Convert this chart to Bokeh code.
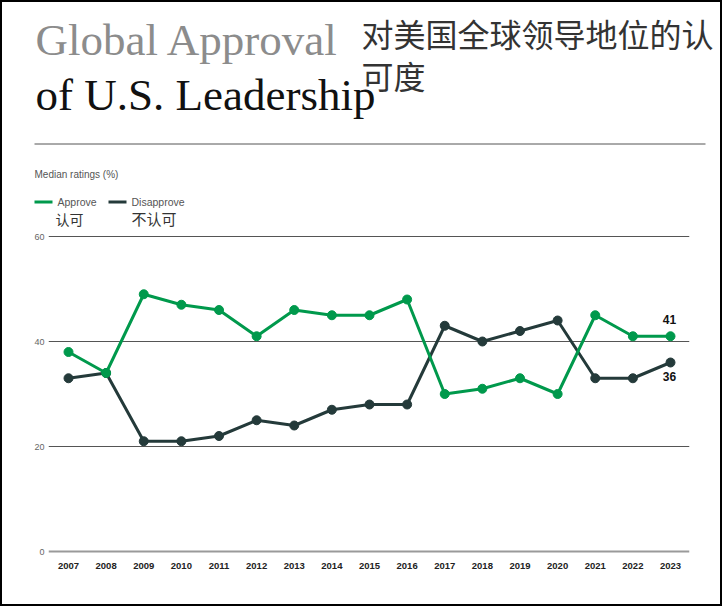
from bokeh.plotting import figure
from bokeh.models import Range1d, Label, Span, FixedTicker, ColumnDataSource
from bokeh.layouts import column
from bokeh.embed import file_html
from bokeh.resources import INLINE

years = list(range(2007, 2024))
approve = [38, 34, 49, 47, 46, 41, 46, 45, 45, 48, 30, 31, 33, 30, 45, 41, 41]
disapprove = [33, 34, 21, 21, 22, 25, 24, 27, 28, 28, 43, 40, 42, 44, 33, 33, 36]
y_ticks = [0, 20, 40, 60]

title_line1 = "Global Approval"
title_line2 = "of U.S. Leadership"
title_cn_1 = "对美国全球领导地位的认"
title_cn_2 = "可度"
subtitle = "Median ratings (%)"
legend_en = ["Approve", "Disapprove"]
legend_cn = ["认可", "不认可"]

GREEN = "#00994C"
DARK = "#243A3A"

W = 722
TOTAL_H = 606
HEADER_BOTTOM = 230  # page y where the chart figure starts

# ---------------- header figure (coordinates = page pixels) ----------------
h = figure(width=W, height=HEADER_BOTTOM, output_backend="svg", toolbar_location=None,
           x_range=Range1d(0, W), y_range=Range1d(HEADER_BOTTOM, 0),
           min_border=0, min_border_left=0, min_border_right=0,
           min_border_top=0, min_border_bottom=0,
           styles={"background-color": "white",
                   "box-shadow": "inset 2px 0 0 0 black, inset -2px 0 0 0 black, inset 0 2px 0 0 black"})
h.frame_align = False
h.axis.visible = False
h.grid.visible = False
h.outline_line_color = None
h.background_fill_alpha = 0
h.border_fill_alpha = 0

h.add_layout(Label(x=35, y=39, text=title_line1, text_align="left", text_baseline="alphabetic",
                   text_font="Liberation Serif", text_font_size="45px", text_color="#8c8c8c"))
h.add_layout(Label(x=35, y=94, text=title_line2, text_align="left", text_baseline="alphabetic",
                   text_font="Liberation Serif", text_font_size="45px", text_color="#111111"))
h.add_layout(Label(x=361, y=32, text=title_cn_1, text_align="left", text_baseline="middle",
                   text_font="Noto Sans CJK SC", text_font_size="32px", text_color="#333333"))
h.add_layout(Label(x=361, y=74, text=title_cn_2, text_align="left", text_baseline="middle",
                   text_font="Noto Sans CJK SC", text_font_size="32px", text_color="#333333"))
h.segment(x0=[34], y0=[143.5], x1=[705], y1=[143.5], line_color="#555555", line_width=1)
h.add_layout(Label(x=34, y=174, text=subtitle, text_align="left", text_baseline="middle",
                   text_font="Liberation Sans", text_font_size="10px", text_color="#555555"))

for col, x0, x1, xt, xc, en, cn, cs in [(GREEN, 34, 52, 57, 55, legend_en[0], legend_cn[0], "14px"),
                                         (DARK, 108, 126, 131, 131, legend_en[1], legend_cn[1], "15px")]:
    h.segment(x0=[x0], y0=[201.5], x1=[x1], y1=[201.5], line_color=col, line_width=3)
    h.add_layout(Label(x=xt, y=201.5, text=en, text_align="left", text_baseline="middle",
                       text_font="Liberation Sans", text_font_size="10.5px", text_color="#555555"))
    h.add_layout(Label(x=xc, y=218, text=cn, text_align="left", text_baseline="middle",
                       text_font="Noto Sans CJK SC", text_font_size=cs, text_color="#333333"))

# ---------------- chart figure ----------------
PX_PER_YEAR = (670 - 68) / 16
PX_PER_UNIT = 5.25
def dx(px):
    return years[0] + (px - 68) / PX_PER_YEAR
def dy(py):
    return (551 - py) / PX_PER_UNIT

frame_left, frame_right, frame_top, frame_bottom = 48, 689, HEADER_BOTTOM, 558
H = TOTAL_H - HEADER_BOTTOM

p = figure(width=W, height=H, output_backend="svg", toolbar_location=None,
           x_range=Range1d(dx(frame_left), dx(frame_right)),
           y_range=Range1d(dy(frame_bottom), dy(frame_top)),
           min_border_left=frame_left, min_border_right=W - frame_right,
           min_border_top=0, min_border_bottom=TOTAL_H - frame_bottom,
           styles={"background-color": "white",
                   "box-shadow": "inset 2px 0 0 0 black, inset -2px 0 0 0 black, inset 0 -2px 0 0 black"})
p.frame_align = False
p.outline_line_color = None
p.background_fill_color = "white"
p.border_fill_alpha = 0

p.xgrid.visible = False
p.ygrid.ticker = FixedTicker(ticks=[20, 40, 60])
p.ygrid.grid_line_color = "#555555"
p.ygrid.grid_line_width = 1

p.add_layout(Span(location=0, dimension="width", line_color="#9a9a9a", line_width=2))

p.yaxis.ticker = FixedTicker(ticks=y_ticks)
p.yaxis.axis_line_color = None
p.yaxis.major_tick_line_color = None
p.yaxis.major_tick_out = 0
p.yaxis.major_tick_in = 0
p.yaxis.minor_tick_line_color = None
p.yaxis.major_label_standoff = 4
p.yaxis.major_label_text_font = "Liberation Sans"
p.yaxis.major_label_text_font_size = "9px"
p.yaxis.major_label_text_color = "#666666"

p.xaxis.ticker = FixedTicker(ticks=years)
p.xaxis.axis_line_color = None
p.xaxis.major_tick_line_color = None
p.xaxis.major_tick_out = 0
p.xaxis.major_tick_in = 0
p.xaxis.minor_tick_line_color = None
p.xaxis.major_label_standoff = 4
p.xaxis.major_label_text_font = "Liberation Sans"
p.xaxis.major_label_text_font_size = "9.5px"
p.xaxis.major_label_text_font_style = "bold"
p.xaxis.major_label_text_color = "#222222"

src = ColumnDataSource(dict(x=years, a=approve, d=disapprove))
p.line("x", "d", source=src, line_color=DARK, line_width=3)
p.scatter("x", "d", source=src, size=9, fill_color=DARK, line_color=DARK)
p.line("x", "a", source=src, line_color=GREEN, line_width=3)
p.scatter("x", "a", source=src, size=9, fill_color=GREEN, line_color=GREEN)

p.add_layout(Label(x=years[-1], y=approve[-1], text=str(approve[-1]), x_offset=-1, y_offset=17,
                   text_align="center", text_baseline="middle", text_font="Liberation Sans",
                   text_font_style="bold", text_font_size="12px", text_color="#111111"))
p.add_layout(Label(x=years[-1], y=disapprove[-1], text=str(disapprove[-1]), x_offset=-1, y_offset=-14,
                   text_align="center", text_baseline="middle", text_font="Liberation Sans",
                   text_font_style="bold", text_font_size="12px", text_color="#111111"))

layout = column(h, p, spacing=0)
open("out.html", "w").write(file_html(layout, INLINE))
